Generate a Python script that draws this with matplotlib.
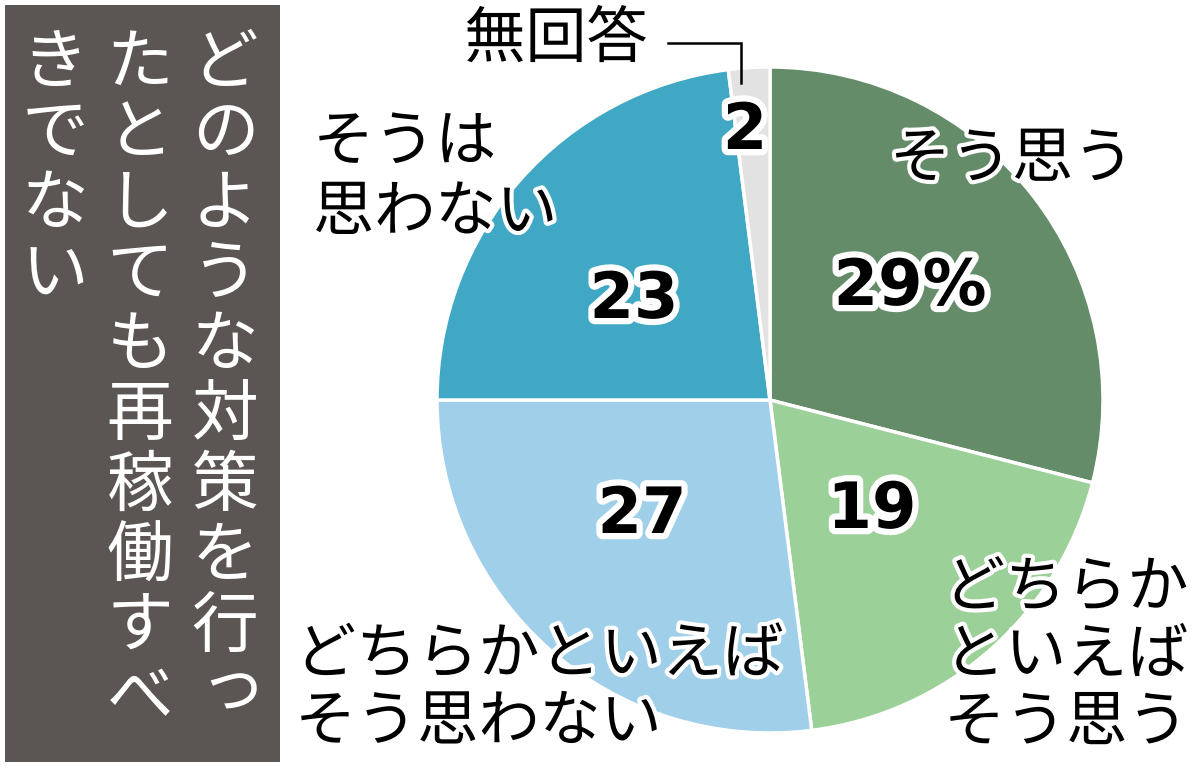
import matplotlib
matplotlib.use("Agg")
import matplotlib.pyplot as plt
import matplotlib.patheffects as pe
from matplotlib.patches import Rectangle

plt.rcParams['font.family'] = ['Noto Sans CJK JP', 'DejaVu Sans']

# Survey answers, clockwise from 12 o'clock
categories = ["そう思う", "どちらかといえば\nそう思う", "どちらかといえば\nそう思わない",
              "そうは\n思わない", "無回答"]
values = [29, 19, 27, 23, 2]
value_labels = ["29%", "19", "27", "23", "2"]
colors = ["#658c69", "#9bd098", "#a0cfea", "#40a8c4", "#e2e2e2"]

title_columns = ["どのような対策を行っ", "たとしても再稼働すべ", "きでない"]

W, H = 1200, 775
fig = plt.figure(figsize=(W / 100, H / 100), dpi=100)
ax = fig.add_axes([0, 0, 1, 1])


def Y(y):
    return H - y


# pie
cx, cy, r = 770, 400, 333
ax.pie(values, colors=colors, startangle=90, counterclock=False,
       center=(cx, Y(cy)), radius=r, frame=True,
       wedgeprops=dict(edgecolor="white", linewidth=2.5))
ax.set_xlim(0, W)
ax.set_ylim(0, H)
ax.set_aspect("equal")
ax.axis("off")

halo = [pe.withStroke(linewidth=9, foreground="white")]
thin_halo = [pe.withStroke(linewidth=6, foreground="white")]

# values inside the slices
value_pos = [(910, 287), (872, 510), (642, 515), (634, 300), (745, 131)]
for lab, (x, y) in zip(value_labels, value_pos):
    ax.text(x, Y(y), lab, ha="center", va="center", fontsize=46,
            fontweight="bold", family="DejaVu Sans", color="black",
            path_effects=halo, zorder=5)

# category names
jp_size = 44
ax.text(1012, Y(160), categories[0], ha="center", va="center",
        fontsize=jp_size, path_effects=thin_halo, zorder=5)
ax.text(944, Y(656), categories[1].replace("どちらかといえば", "どちらか\nといえば"),
        ha="left", va="center", fontsize=jp_size, linespacing=1.1,
        path_effects=thin_halo, zorder=5)
ax.text(295, Y(689), categories[2], ha="left", va="center",
        fontsize=jp_size, linespacing=1.1, path_effects=thin_halo, zorder=5)
ax.text(313, Y(178), categories[3], ha="left", va="center",
        fontsize=jp_size, linespacing=1.16, path_effects=thin_halo, zorder=5)
ax.text(556, Y(40), categories[4], ha="center", va="center",
        fontsize=jp_size, path_effects=thin_halo, zorder=5)

# leader line for the no-answer slice
ax.plot([668, 741, 741], [Y(43), Y(43), Y(83)], color="black", lw=1.8,
        solid_joinstyle="miter", zorder=6)

# vertical title panel
ax.add_patch(Rectangle((5, Y(762)), 275, 757, facecolor="#5b5653",
                       edgecolor="none", zorder=1))
col_x = [225, 140, 55]
pitch = 70.5
small_kana = set("っゃゅょ")
for text, x in zip(title_columns, col_x):
    for i, ch in enumerate(text):
        y = 64 + i * pitch
        dx, dy = 0, 0
        if ch in small_kana:
            dx, dy = 8, -10
        ax.text(x + dx, Y(y + dy), ch, ha="center", va="center",
                fontsize=48, color="white", zorder=2)

fig.savefig("out.png", dpi=100, facecolor="white")
